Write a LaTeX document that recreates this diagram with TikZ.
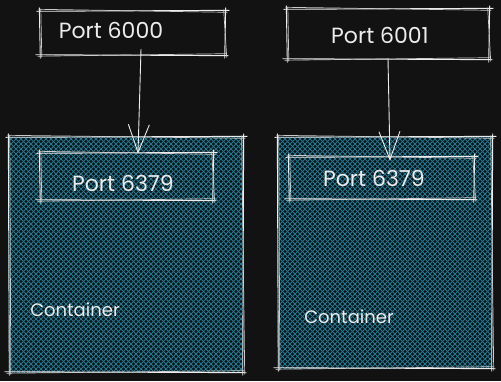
\documentclass[tikz,border=0pt]{standalone}
\usepackage{fontspec}
\setmainfont{Poppins}
\usetikzlibrary{arrows.meta,calc}
\definecolor{bgc}{HTML}{121212}
\definecolor{ink}{HTML}{ECECEC}
\definecolor{hatchc}{HTML}{1F7893}
\tikzset{
  inkline/.style={draw=ink, line width=0.9pt, line cap=round},
  inkthin/.style={draw=ink!85!bgc, line width=0.7pt, line cap=round},
  hatchline/.style={draw=hatchc, line width=1.0pt},
  boxnode/.style={rectangle, draw=none, inner sep=0pt},
  lbl/.style={text=ink, inner sep=0pt, font=\fontsize{22}{26}\selectfont},
  clbl/.style={text=ink, inner sep=0pt, font=\fontsize{18}{21}\selectfont},
  arr/.style={inkline, -{Straight Barb[length=28pt,width=21pt,line width=0.9pt]}},
}
\newcommand\sketchbox[1]{%
  \draw[inkline] ([shift={(-3,0.5)}]#1.north west) -- ([shift={(4,-0.5)}]#1.north east);
  \draw[inkline] ([shift={(0.5,-3)}]#1.north east) -- ([shift={(-0.5,3)}]#1.south east);
  \draw[inkline] ([shift={(3,0.5)}]#1.south east) -- ([shift={(-4,-0.5)}]#1.south west);
  \draw[inkline] ([shift={(0.5,3)}]#1.south west) -- ([shift={(-0.5,-3)}]#1.north west);
  \draw[inkthin] ([shift={(-1,-1.5)}]#1.north west) -- ([shift={(2,1.5)}]#1.north east);
  \draw[inkthin] ([shift={(-1.5,-1)}]#1.north east) -- ([shift={(1.5,2)}]#1.south east);
  \draw[inkthin] ([shift={(1,-1.5)}]#1.south east) -- ([shift={(-2,1)}]#1.south west);
  \draw[inkthin] ([shift={(2,2)}]#1.south west) -- ([shift={(1,-1.5)}]#1.north west);
}
\newcommand\hatchfill[1]{%
  \begin{scope}
    \clip (#1.north west) rectangle (#1.south east);
    \foreach \i in {-260,-255,...,260} {
      \draw[hatchline] ([xshift=\i pt]#1.north west) -- ++(260,260);
      \draw[hatchline] ([xshift=\i pt]#1.north east) -- ++(-260,260);
    }
  \end{scope}
}
\begin{document}
\begin{tikzpicture}[x=1pt,y=-1pt]
  \fill[bgc] (0,0) rectangle (501,381);
  \useasboundingbox (0,0) rectangle (501,381);

  % containers
  \node[boxnode, minimum width=234pt, minimum height=235pt] (c1) at (126,254.5) {};
  \node[boxnode, minimum width=214pt, minimum height=231pt] (c2) at (385,252.5) {};
  \hatchfill{c1}
  \hatchfill{c2}
  \sketchbox{c1}
  \sketchbox{c2}

  % inner port boxes
  \node[boxnode, minimum width=173pt, minimum height=47pt] (i1) at (126.5,176.5) {};
  \node[boxnode, minimum width=185pt, minimum height=42pt] (i2) at (381.5,178) {};
  \sketchbox{i1}
  \sketchbox{i2}
  \node[lbl] (t3) at (123,183) {Port 6379};
  \node[lbl] (t4) at (374,178) {Port 6379};

  % top port boxes
  \node[boxnode, minimum width=185pt, minimum height=44pt] (p1) at (132.5,33) {};
  \node[boxnode, minimum width=202pt, minimum height=50pt] (p2) at (388,34) {};
  \sketchbox{p1}
  \sketchbox{p2}
  \node[lbl] (t1) at (111,30) {Port 6000};
  \node[lbl] (t2) at (380,35) {Port 6001};

  % container labels
  \node[clbl] (k1) at (75,310) {Container};
  \node[clbl] (k2) at (349,317) {Container};

  % arrows
  \draw[arr] ([xshift=8.5pt,yshift=6pt]p1.south) -- ([xshift=11.5pt,yshift=-1pt]i1.north);
  \draw[arr] ([xshift=0pt,yshift=1pt]p2.south) -- ([xshift=8.5pt,yshift=-4pt]i2.north);
\end{tikzpicture}
\end{document}
